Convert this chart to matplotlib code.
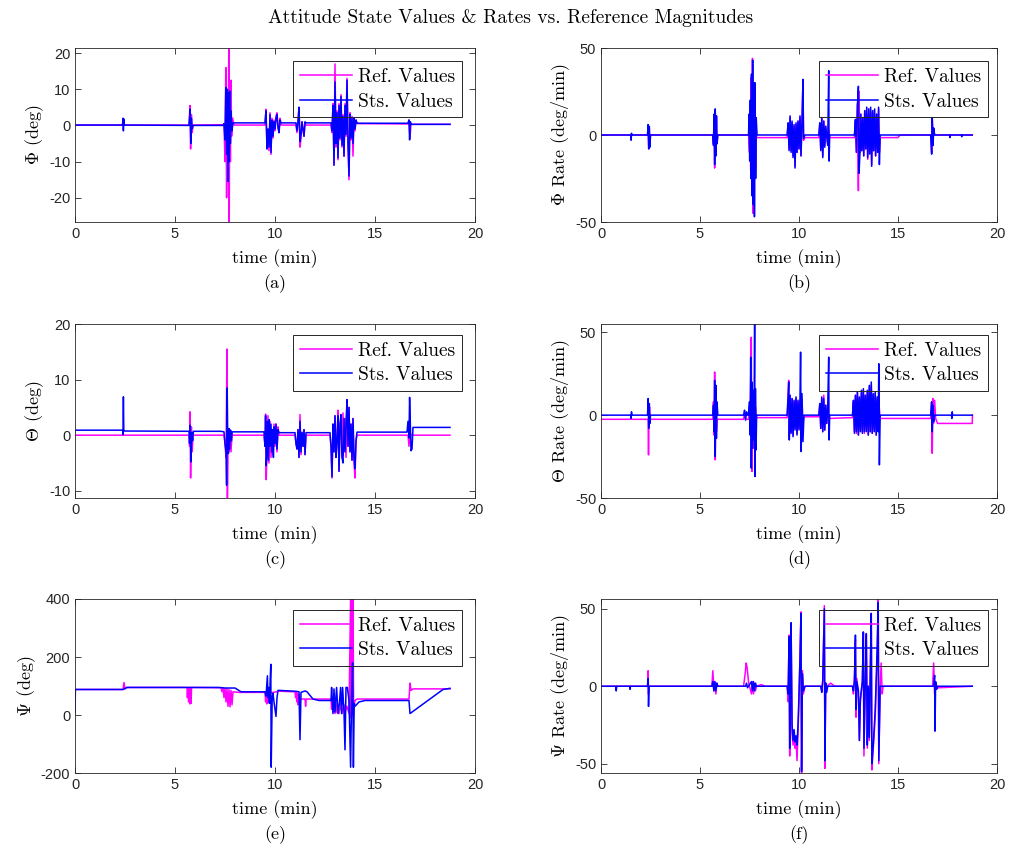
import matplotlib
matplotlib.use("Agg")
import matplotlib.pyplot as plt

plt.rcParams['font.family'] = 'Liberation Sans'
plt.rcParams['mathtext.fontset'] = 'cm'
plt.rcParams['axes.unicode_minus'] = False

# (time [min], value) pairs
phi_ref = [(0, 0.1), (2.35, 0.1), (2.4, 0.8), (2.45, 0.1),
           (5.7, 0.1), (5.75, 5.5), (5.78, -6.5), (5.82, 3.0), (5.86, -2.0), (5.9, 0.1),
           (7.45, 0.2), (7.5, -10.0), (7.54, 16.0), (7.58, -20.0), (7.62, 8.0), (7.66, -5.0), (7.69, 21.5),
           (7.71, -26.7), (7.74, 12.0), (7.77, -10.0), (7.8, 12.5), (7.83, -3.0), (7.88, 2.0), (7.95, 0.1),
           (9.5, 0.1), (9.55, 4.5), (9.6, -6.5), (9.65, -1.0), (9.7, -7.0), (9.75, 3.5), (9.8, -8.0), (9.85, 2.0),
           (9.9, -3.5), (9.95, 1.5), (10.0, -1.5), (10.05, 2.5), (10.1, 3.5), (10.15, -0.5), (10.2, -2.0),
           (10.25, 2.0), (10.3, 0.1),
           (11.05, 0.1), (11.1, -2.0), (11.15, 1.0), (11.2, 5.0), (11.25, -6.0), (11.3, -3.5), (11.35, 1.0),
           (11.45, -3.0), (11.5, 0.5), (11.55, 0.1),
           (12.8, 0.1), (12.85, -2.0), (12.9, 6.0), (12.95, -11.0), (13.0, 17.0), (13.05, -6.0), (13.1, 4.0),
           (13.15, -9.5), (13.2, 6.0), (13.25, -4.0), (13.3, 8.5), (13.35, -6.0), (13.4, 3.0), (13.45, -8.5),
           (13.5, 6.0), (13.55, -3.0), (13.6, 13.0), (13.65, -5.0), (13.7, -15.0), (13.75, 3.5), (13.8, -4.0),
           (13.85, 2.5), (13.9, -8.5), (13.95, 2.0), (14.0, -1.5), (14.05, 1.5), (14.1, 0.5),
           (16.65, 0.4), (16.7, 1.5), (16.75, -3.5), (16.8, 0.5), (16.85, 0.3), (18.75, 0.3)]
phi_sts = [(0, 0.1), (2.38, 0.1), (2.4, 2.0), (2.42, -1.5), (2.44, 1.8), (2.46, 0.1),
           (5.7, 0.0), (5.76, 4.5), (5.79, -5.0), (5.82, 2.0), (5.86, -1.0), (5.9, 0.0), (7.4, 0.0), (7.45, 0.5),
           (7.5, -4.0), (7.54, 10.5), (7.58, -8.0), (7.62, 10.0), (7.65, -15.5), (7.68, 9.0), (7.71, -10.0),
           (7.74, 9.5), (7.77, -5.0), (7.8, 4.0), (7.85, -1.5), (7.9, 0.7),
           (9.5, 0.7), (9.55, 4.0), (9.6, -6.5), (9.65, -1.0), (9.7, -6.0), (9.75, 3.0), (9.8, -7.5), (9.85, 1.5),
           (9.9, -3.0), (9.95, 1.0), (10.0, -1.0), (10.05, 2.0), (10.1, 3.0), (10.15, -0.5), (10.2, -2.0),
           (10.25, 1.5), (10.3, 0.7),
           (11.05, 0.7), (11.1, -1.5), (11.15, 1.0), (11.2, 5.0), (11.25, -4.5), (11.3, -2.5), (11.35, 1.0),
           (11.45, -3.0), (11.5, 1.0), (11.55, 0.7),
           (12.8, 0.7), (12.85, -1.5), (12.9, 5.5), (12.95, -11.0), (13.0, 12.0), (13.05, -5.0), (13.1, 3.5),
           (13.15, -9.0), (13.2, 5.5), (13.25, -3.5), (13.3, 8.0), (13.35, -5.5), (13.4, 2.5), (13.45, -8.5),
           (13.5, 5.5), (13.55, -2.5), (13.6, 12.5), (13.65, -4.5), (13.7, -14.0), (13.75, 3.0), (13.8, -3.5),
           (13.85, 2.0), (13.9, -5.0), (13.95, 2.0), (14.0, -1.0), (14.05, 1.5), (14.1, 0.6),
           (16.65, 0.6), (16.7, 1.5), (16.73, -4.0), (16.77, 1.0), (16.8, 0.3), (18.75, 0.3)]

phi_rate_ref = [(0, 0), (1.5, 0), (1.52, -2), (1.54, 0), (2.35, 0), (2.38, 5), (2.41, -8), (2.44, 4), (2.47, -6),
                (2.5, 0),
                (5.65, 0), (5.68, -5), (5.71, 10), (5.74, -19), (5.77, 14), (5.8, -12), (5.83, 11), (5.86, -5),
                (5.9, 0),
                (7.45, 0), (7.5, -10), (7.53, 18), (7.56, -20), (7.59, 33), (7.62, -30), (7.65, 44), (7.68, -45),
                (7.71, 30), (7.74, -40), (7.77, 25), (7.8, -20), (7.83, 8), (7.86, -1.5),
                (9.4, -1.5), (9.45, 6), (9.5, -8), (9.55, 10), (9.6, -9), (9.65, 7), (9.7, -12), (9.75, 5),
                (9.8, -18), (9.85, 6), (9.9, -10), (9.95, 8), (10.0, -8), (10.05, 10), (10.1, -12), (10.15, 6),
                (10.2, 30), (10.23, -3), (10.3, -1.5),
                (11.0, -1.5), (11.05, 6), (11.1, -8), (11.15, 10), (11.2, -12), (11.25, 8), (11.3, -6), (11.35, 5),
                (11.45, -5), (11.5, 3), (11.55, -1.5),
                (12.8, -1.5), (12.85, 8), (12.9, -10), (12.95, 18), (13.0, -32), (13.03, 25), (13.08, -10),
                (13.12, 12), (13.17, -9), (13.22, 10), (13.27, -12), (13.32, 14), (13.37, -8), (13.42, 12),
                (13.47, -14), (13.52, 15), (13.57, -10), (13.62, 13), (13.67, -17), (13.72, 14), (13.77, -9),
                (13.82, 10), (13.87, -12), (13.92, 12), (13.97, -8), (14.02, 15), (14.06, -10), (14.1, -1.5),
                (15.0, -1.5), (15.1, 0),
                (16.65, 0), (16.7, -10), (16.73, 10), (16.77, -6), (16.8, 4), (16.85, 0), (18.75, 0)]
phi_rate_sts = [(0, 0), (1.5, 0), (1.52, -3), (1.54, 1), (1.56, 0), (2.35, 0), (2.38, 6), (2.41, -8), (2.44, 5),
                (2.47, -7), (2.5, 0),
                (5.65, 0), (5.68, -6), (5.71, 12), (5.74, -17), (5.77, 15), (5.8, -12), (5.83, 11), (5.86, -5),
                (5.9, 0),
                (7.45, 0), (7.48, 12), (7.51, -15), (7.54, 20), (7.57, -25), (7.6, 35), (7.63, -35), (7.66, 43),
                (7.69, -40), (7.72, 30), (7.75, -47), (7.78, 30), (7.81, -25), (7.84, 10), (7.88, 0),
                (9.4, 0), (9.45, 7), (9.5, -9), (9.55, 11), (9.6, -10), (9.65, 8), (9.7, -13), (9.75, 6), (9.8, -19),
                (9.85, 7), (9.9, -10), (9.95, 8), (10.0, -8), (10.05, 11), (10.1, -12), (10.15, 7), (10.2, 32),
                (10.23, -2), (10.3, 0),
                (11.0, 0), (11.05, 7), (11.1, -9), (11.15, 10), (11.2, -13), (11.25, 8), (11.3, -7), (11.35, 5),
                (11.45, -6), (11.5, 37), (11.52, -15), (11.55, 0),
                (12.8, 0), (12.85, 9), (12.9, -10), (12.95, 17), (13.0, 28), (13.03, -22), (13.08, -10), (13.12, 12),
                (13.17, -9), (13.22, 10), (13.27, -12), (13.32, 14), (13.37, -8), (13.42, 16), (13.47, -13),
                (13.52, 15), (13.57, -11), (13.62, 16), (13.67, -18), (13.72, 14), (13.77, -9), (13.82, 15),
                (13.87, -12), (13.92, 12), (13.97, -10), (14.02, 16), (14.06, -17), (14.1, 0),
                (16.65, 0), (16.7, -11), (16.73, 10), (16.77, -6), (16.8, 4), (16.85, 0), (17.6, 0), (17.62, -1.5),
                (17.64, 0), (18.2, 0), (18.22, -1), (18.24, 0), (18.75, 0)]

theta_ref = [(0, 0), (5.7, 0), (5.73, -2), (5.75, 4.2), (5.78, -7.7), (5.82, 1.5), (5.86, -3), (5.9, 0),
             (7.45, 0), (7.5, -1.5), (7.55, -4), (7.6, 15.5), (7.62, -11.3), (7.65, -2), (7.7, -3), (7.75, 1),
             (7.8, -3), (7.85, 0),
             (9.45, 0), (9.5, -2), (9.53, 3.8), (9.56, -8), (9.6, -3), (9.65, 3.5), (9.7, -5), (9.75, 2.5),
             (9.8, -4), (9.85, 1), (9.9, -3.5), (9.95, 2), (10.0, -2), (10.05, 2), (10.1, -3), (10.15, 1.5),
             (10.2, 0),
             (11.0, 0), (11.05, -1.5), (11.1, -2.5), (11.15, 1), (11.2, -4), (11.25, 3.7), (11.3, -3.5),
             (11.35, 0.5), (11.4, -2), (11.45, 1), (11.5, -3.5), (11.55, 0),
             (12.75, 0), (12.8, -2), (12.85, -7.7), (12.9, 2), (12.95, -3), (13.0, 3.5), (13.05, -4), (13.1, -1),
             (13.15, 4.5), (13.2, -6.5), (13.25, 2), (13.3, 3), (13.35, -4), (13.4, 4), (13.45, -3), (13.5, 3),
             (13.55, -4), (13.6, 6), (13.65, -2), (13.7, 5), (13.75, -3), (13.8, 2), (13.85, -4.5), (13.9, 3),
             (13.95, -5), (14.0, -7.7), (14.05, -1), (14.1, 0),
             (16.65, 0), (16.7, -2), (16.75, 0.5), (16.8, 0), (18.75, 0)]
theta_sts = [(0, 0.9), (2.38, 0.9), (2.4, 0.1), (2.42, 6.9), (2.44, 0.8), (2.46, 0.75),
             (5.7, 0.7), (5.73, -1.5), (5.76, 1.8), (5.8, -4.8), (5.84, 0.5), (5.88, -1), (5.92, 0.7),
             (7.3, 0.7), (7.45, 0.6), (7.5, -1.5), (7.55, -3), (7.58, -9), (7.61, 8.5), (7.64, -2), (7.67, -3.3),
             (7.7, 1.2), (7.73, -2.5), (7.78, 0.9), (7.82, -1), (7.86, 0.6),
             (9.45, 0.6), (9.5, -2), (9.53, 3.5), (9.56, -5.5), (9.6, -3), (9.63, 2.5), (9.67, -4.5), (9.71, 2.8),
             (9.75, -2), (9.8, 2), (9.84, -3), (9.88, 1), (9.92, -4), (9.96, 1.5), (10.0, -1.5), (10.05, 2),
             (10.1, -2.5), (10.15, 1), (10.2, 0.45),
             (11.0, 0.45), (11.05, -1.5), (11.1, -2.5), (11.15, 1), (11.2, -4), (11.25, 2.5), (11.3, -3),
             (11.35, 0.5), (11.4, -2), (11.45, 1), (11.5, -3.5), (11.55, 0.45),
             (12.75, 0.45), (12.8, -2), (12.85, -7.5), (12.9, 2), (12.95, -3), (13.0, 3.5), (13.05, -4),
             (13.1, -1), (13.15, 3.5), (13.2, -6.5), (13.25, 2), (13.3, 3.7), (13.35, -4), (13.4, -5), (13.45, 3),
             (13.5, -3), (13.55, 2), (13.6, 6.4), (13.65, -2), (13.7, 5), (13.75, -3), (13.8, 2), (13.85, -4.5),
             (13.9, 3), (13.95, -4), (14.0, -6), (14.05, -1), (14.1, 0.55),
             (16.6, 0.55), (16.65, 2.5), (16.7, -0.5), (16.73, 6.8), (16.76, 3), (16.8, -2.8), (16.85, -2.5),
             (16.9, 1.4), (18.75, 1.4)]

theta_rate_ref = [(0, -2.5), (2.38, -2.5), (2.4, -24), (2.42, -2.5), (2.45, 5), (2.48, -2.5),
                  (5.65, -2.5), (5.68, 8), (5.71, -12), (5.74, 26), (5.77, -27), (5.8, 15), (5.83, -10),
                  (5.87, -2.5),
                  (7.2, -2.5), (7.25, 1), (7.3, -2.5), (7.45, -2.5), (7.5, 5), (7.53, -10), (7.56, 20), (7.59, 47),
                  (7.62, -34), (7.65, 15), (7.68, -20), (7.72, 10), (7.76, -10), (7.8, 5), (7.84, -1.5),
                  (9.4, -1.5), (9.45, 10), (9.48, 21), (9.51, -13), (9.55, 12), (9.6, -10), (9.65, 10), (9.7, -12),
                  (9.75, 8), (9.8, -8), (9.85, 10), (9.9, -11), (9.95, 8), (10.0, -8), (10.05, 9), (10.1, -12),
                  (10.15, 10), (10.2, -5), (10.25, -1),
                  (11.0, -1), (11.05, 6), (11.1, -8), (11.15, 10), (11.2, -10), (11.25, 12), (11.3, -9), (11.35, 6),
                  (11.4, -5), (11.45, 4), (11.5, -2),
                  (12.7, -1.5), (12.75, 8), (12.8, -10), (12.85, 12), (12.9, -11), (12.95, 14), (13.0, -12),
                  (13.05, 10), (13.1, -9), (13.15, 13), (13.2, -10), (13.25, 15), (13.3, -11), (13.35, 12),
                  (13.4, -9), (13.45, 14), (13.5, -12), (13.55, 17), (13.6, -10), (13.65, 18), (13.7, -11),
                  (13.75, 12), (13.8, -9), (13.85, 13), (13.9, -12), (13.95, 10), (14.0, -8), (14.05, 5), (14.1, -2),
                  (16.65, -2), (16.7, 8), (16.73, -23), (16.76, 10), (16.8, -5), (16.85, 9), (16.9, -2), (17.0, -5),
                  (18.75, -5), (18.76, 0)]
theta_rate_sts = [(0, 0), (1.5, 0), (1.52, -2), (1.54, 2), (1.56, 0), (2.35, 0), (2.38, 10), (2.41, -8),
                  (2.44, 7), (2.47, -5), (2.5, 0),
                  (5.65, 0), (5.68, 6), (5.71, -10), (5.74, 21), (5.77, -25), (5.8, 18), (5.83, -14), (5.86, 8),
                  (5.9, 0),
                  (7.2, 0), (7.25, 3), (7.3, -3), (7.35, 2), (7.4, 0), (7.45, 0), (7.5, 8), (7.53, -12), (7.56, 35),
                  (7.59, -32), (7.62, 20), (7.65, -20), (7.68, 15), (7.72, -15), (7.76, 55), (7.78, -37), (7.8, 16),
                  (7.83, -21), (7.86, 0),
                  (9.4, 0), (9.45, 12), (9.48, 20), (9.51, -15), (9.55, 12), (9.6, -11), (9.65, 10), (9.7, -13),
                  (9.75, 9), (9.8, -9), (9.85, 11), (9.9, -12), (9.95, 9), (10.0, -9), (10.05, 10), (10.08, 38),
                  (10.11, -22), (10.15, 13), (10.2, -16), (10.25, 0),
                  (11.0, 0), (11.05, 7), (11.1, -8), (11.15, 11), (11.2, -10), (11.25, 10), (11.3, -9), (11.35, 6),
                  (11.4, -5), (11.45, 4), (11.5, 35), (11.52, -15), (11.55, 0),
                  (12.7, 0), (12.75, 9), (12.8, -11), (12.85, 12), (12.9, -10), (12.95, 14), (13.0, -12),
                  (13.05, 11), (13.1, -10), (13.15, 15), (13.2, -11), (13.25, 16), (13.3, -10), (13.35, 12),
                  (13.4, -10), (13.45, 15), (13.5, -12), (13.55, 18), (13.6, -10), (13.65, 20), (13.7, -11),
                  (13.75, 13), (13.8, -10), (13.85, 14), (13.9, -12), (13.95, 11), (14.0, -10), (14.03, 31),
                  (14.06, -30), (14.1, 0),
                  (16.65, 0), (16.7, 8), (16.73, -10), (16.76, 6), (16.8, -4), (16.85, 0), (17.7, 0), (17.72, -2),
                  (17.74, 2), (17.76, 0), (18.75, 0)]

psi_ref = [(0, 88), (2.4, 88), (2.45, 112), (2.5, 90), (2.6, 95), (5.6, 95), (5.62, 60), (5.65, 95), (5.68, 45),
           (5.72, 95), (5.75, 38), (5.78, 95), (5.8, 40), (5.83, 95),
           (7.3, 94), (7.35, 80), (7.4, 93), (7.45, 60), (7.5, 92), (7.55, 45), (7.6, 90), (7.65, 30), (7.7, 88),
           (7.75, 28), (7.8, 85), (7.85, 35), (7.9, 80), (8.2, 78), (9.5, 78),
           (9.53, 45), (9.56, 75), (9.59, 38), (9.62, 70), (9.65, 45), (9.7, 75), (10.2, 82), (11.0, 80),
           (11.03, 60), (11.06, 78), (11.09, 45), (11.12, 75), (11.15, 35), (11.2, 70), (11.25, 55), (11.5, 55),
           (11.53, 30), (11.56, 55), (12.8, 55), (12.83, 20), (12.86, 50), (12.9, 10), (12.95, 45), (13.0, 5),
           (13.05, 40), (13.1, 8), (13.15, 30), (13.2, 5), (13.3, 40), (13.35, 5), (13.45, 35), (13.5, 10),
           (13.6, 30), (13.7, 5), (13.78, 400), (13.8, -10), (13.83, 400), (13.86, 0), (13.9, 400), (13.93, 20),
           (14.0, 50), (14.1, 55), (16.7, 55), (16.75, 110), (16.8, 85), (16.9, 90), (18.75, 90)]
psi_sts = [(0, 5), (0.02, 88), (2.4, 88), (2.6, 95), (7.2, 95), (7.5, 93), (8.0, 93), (8.3, 80), (9.5, 80),
           (9.55, 65), (9.62, 135), (9.65, 60), (9.68, 95), (9.72, 40), (9.76, 120), (9.79, 175), (9.81, -180),
           (9.86, 60), (9.9, 75), (9.95, 45), (10.05, -5), (10.1, 60), (10.15, 85), (11.0, 82), (11.2, 80),
           (11.25, -85), (11.3, 78), (11.5, 83), (11.6, 80), (11.9, 55), (12.2, 50), (12.8, 50),
           (12.83, 95), (12.9, 5), (12.95, 90), (13.0, 10), (13.08, 95), (13.15, 5), (13.22, 40), (13.28, 95),
           (13.33, 5), (13.38, 95), (13.45, 10), (13.5, -120), (13.55, 95), (13.62, 95), (13.7, 50), (13.78, -180),
           (13.83, 60), (13.88, 180), (13.92, -180), (13.96, 40), (14.0, 30), (14.2, 45), (14.5, 50), (16.7, 50),
           (16.75, 5), (18.4, 88), (18.75, 92)]

psi_rate_ref = [(0, 0), (0.75, 0), (0.77, -2), (0.79, 0), (2.35, 0), (2.38, 10), (2.4, -5), (2.43, 0),
                (5.6, 0), (5.65, 10), (5.7, -3), (5.75, 3), (5.8, -5), (5.85, 2), (5.9, 0),
                (7.2, 0), (7.28, 8), (7.33, 15), (7.38, 12), (7.45, 3), (7.5, 0), (7.6, -5), (7.65, 3), (7.7, -5),
                (7.75, 2), (7.8, -3), (7.85, 0), (8.1, 1), (8.3, 0),
                (9.4, 0), (9.45, -10), (9.5, 33), (9.53, -45), (9.57, 30), (9.6, 40), (9.65, -30), (9.7, -38),
                (9.75, -30), (9.8, -40), (9.85, -35), (9.9, -48), (9.95, -30), (10.0, -10), (10.05, 20),
                (10.1, 48), (10.13, -56), (10.17, 10), (10.22, -5), (10.3, 0),
                (11.1, 0), (11.15, -3), (11.2, 3), (11.28, 52), (11.31, -53), (11.35, 2), (11.4, 0), (11.6, 2),
                (11.8, 0),
                (12.7, 0), (12.75, -5), (12.8, 5), (12.85, 30), (12.88, -20), (12.92, 5), (13.0, -5), (13.05, -35),
                (13.1, -10), (13.2, 3), (13.25, 35), (13.28, -45), (13.35, 5), (13.4, 33), (13.45, -40), (13.5, 0),
                (13.55, -35), (13.6, 10), (13.65, 47), (13.68, -54), (13.75, -40), (13.85, -20), (13.95, 20),
                (14.0, 56), (14.03, -50), (14.1, 0), (14.15, 15), (14.2, -5), (14.25, 0),
                (16.75, 0), (16.8, 15), (16.85, -5), (16.9, 2), (17.0, -1), (18.75, 0)]
psi_rate_sts = [(0, 0), (0.75, 0), (0.77, -3), (0.79, 0), (1.45, 0), (1.47, -2), (1.49, 0), (2.35, 0),
                (2.38, 5), (2.4, -13), (2.43, 0),
                (5.6, 0), (5.65, 3), (5.7, -3), (5.75, 3), (5.8, -3), (5.85, 2), (5.9, 0),
                (7.3, 0), (7.35, 2), (7.4, -1), (7.6, 3), (7.65, -3), (7.7, 3), (7.75, -3), (7.8, 2), (7.85, 0),
                (9.4, 0), (9.45, -5), (9.5, 32), (9.53, -40), (9.57, 28), (9.6, 41), (9.65, -25), (9.7, -35),
                (9.75, -28), (9.8, -36), (9.85, -32), (9.9, -38), (9.95, -25), (10.0, -5), (10.05, 18),
                (10.1, 47), (10.13, -55), (10.17, 8), (10.22, -3), (10.3, 0),
                (11.1, 0), (11.15, -4), (11.2, 4), (11.28, 50), (11.31, -48), (11.35, 2), (11.4, -4), (11.45, 0),
                (12.7, 0), (12.75, -3), (12.8, 4), (12.85, 33), (12.88, -15), (12.92, 3), (13.0, -3), (13.05, -35),
                (13.1, -8), (13.2, 3), (13.25, 35), (13.28, -40), (13.35, 4), (13.4, 34), (13.45, -38), (13.5, 0),
                (13.55, -33), (13.6, 8), (13.65, 47), (13.68, -50), (13.75, -38), (13.85, -15), (13.95, 25),
                (14.0, 54), (14.03, -48), (14.1, 0),
                (16.8, 0), (16.85, 7), (16.87, -29), (16.9, 3), (16.95, -2), (17.0, 0), (18.75, 0)]

panels = [
    (phi_ref, phi_sts, r'$\Phi$ (deg)', '(a)', (-26.7, 21.4), [-20, -10, 0, 10, 20]),
    (phi_rate_ref, phi_rate_sts, r'$\Phi$ Rate (deg/min)', '(b)', (-50, 50), [-50, 0, 50]),
    (theta_ref, theta_sts, r'$\Theta$ (deg)', '(c)', (-11.3, 20), [-10, 0, 10, 20]),
    (theta_rate_ref, theta_rate_sts, r'$\Theta$ Rate (deg/min)', '(d)', (-50, 55), [-50, 0, 50]),
    (psi_ref, psi_sts, r'$\Psi$ (deg)', '(e)', (-200, 400), [-200, 0, 200, 400]),
    (psi_rate_ref, psi_rate_sts, r'$\Psi$ Rate (deg/min)', '(f)', (-56, 56.3), [-50, 0, 50]),
]

W, H = 1011, 847
lefts = [75, 601]
widths = [400, 396]
bottoms = [222, 498, 773]
legend_tops = [0.925, 0.938, 0.938]

fig = plt.figure(figsize=(W / 100, H / 100), dpi=100)
serif = 'cmr10'
dark = (0.15, 0.15, 0.15)

for i, (ref, sts, ylab, tag, ylim, yticks) in enumerate(panels):
    row, col = i // 2, i % 2
    ax = fig.add_axes([lefts[col] / W, (H - bottoms[row]) / H, widths[col] / W, 174 / H])
    rt, ry = zip(*ref)
    st, sy = zip(*sts)
    ax.plot(rt, ry, color=(1, 0, 1), lw=1.1, label='Ref. Values')
    ax.plot(st, sy, color=(0, 0, 1), lw=1.1, label='Sts. Values')
    ax.set_xlim(0, 20)
    ax.set_ylim(*ylim)
    ax.set_xticks([0, 5, 10, 15, 20])
    ax.set_yticks(yticks)
    ax.tick_params(direction='in', length=4, width=0.6, top=True, right=True,
                   labelsize=10.5, colors=dark, labelcolor=dark)
    for s in ax.spines.values():
        s.set_color(dark)
        s.set_linewidth(0.6)
    ax.set_xlabel('time (min)', family=serif, fontsize=13, labelpad=6)
    ax.set_ylabel(ylab, family=serif, fontsize=13, labelpad=2)
    ax.text(0.5, -0.355, tag, transform=ax.transAxes, ha='center', va='center',
            family=serif, fontsize=13)
    right = 0.9675 if col == 0 else 0.977
    leg = ax.legend(loc='upper right', bbox_to_anchor=(right, legend_tops[row]), borderaxespad=0,
                    prop={'family': serif, 'size': 14}, handlelength=2.7, handletextpad=0.3,
                    labelspacing=0.35, borderpad=0.35, fancybox=False)
    frame = leg.get_frame()
    frame.set_facecolor('none')
    frame.set_alpha(None)
    frame.set_edgecolor(dark)
    frame.set_linewidth(0.7)

fig.text(0.505, 1 - 18 / H, 'Attitude State Values & Rates vs. Reference Magnitudes',
         ha='center', va='center', family=serif, fontsize=14)

fig.savefig('out.png', dpi=100)
